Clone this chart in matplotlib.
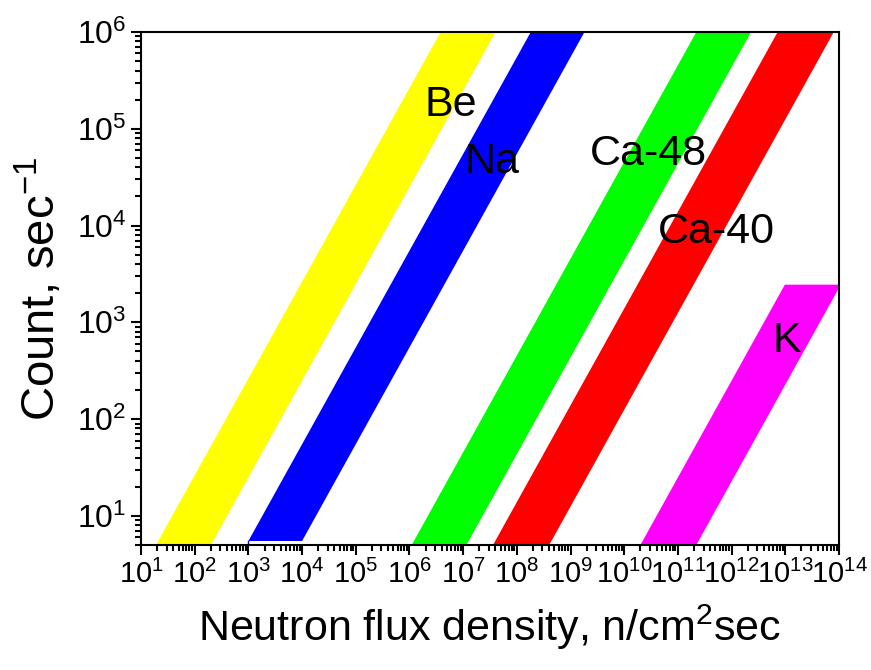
import matplotlib
matplotlib.use("Agg")
import matplotlib.pyplot as plt
from matplotlib.ticker import LogLocator, LogFormatterMathtext, NullFormatter

plt.rcParams['font.family'] = ['Liberation Sans', 'DejaVu Sans']
plt.rcParams['mathtext.fontset'] = 'custom'
plt.rcParams['mathtext.rm'] = 'Liberation Sans'
plt.rcParams['mathtext.it'] = 'Liberation Sans'
plt.rcParams['mathtext.bf'] = 'Liberation Sans'

# ---- data ----
names = ['Be', 'Na', 'Ca-48', 'Ca-40', 'K']
colors = ['#ffff00', '#0000ff', '#00ff00', '#ff0000', '#ff00ff']
count_low = [5.0, 5.5, 5.0, 5.0, 5.0]
count_high = [1e6, 1e6, 1e6, 1e6, 2450.0]
flux_left_at_low = [19.0, 1e3, 1.1e6, 3.6e7, 2.0e10]
flux_right_at_low = [200.0, 1e4, 1.15e7, 4.0e8, 2.2e11]
label_x = [10**6.77, 10**7.54, 10**10.46, 10**11.71, 10**13.03]
label_y = [10**5.25, 10**4.66, 10**4.74, 10**3.93, 10**2.81]

xlim = (1e1, 1e14)
ylim = (5, 1e6)

fig = plt.figure(figsize=(8.71, 6.70), dpi=100)
ax = fig.add_axes([141/871, 1-545/670, (839-141)/871, (545-32)/670])

for i in range(len(names)):
    lo, hi = count_low[i], count_high[i]
    xl, xr = flux_left_at_low[i], flux_right_at_low[i]
    k = hi / lo
    xs = [xl, xr, xr * k, xl * k]
    ys = [lo, lo, hi, hi]
    ax.fill(xs, ys, color=colors[i], lw=0, zorder=2)
    ax.text(label_x[i], label_y[i], names[i], fontsize=31, ha='center', va='center', zorder=4)

# small vertical edge of the Na band
ax.plot([flux_left_at_low[1], flux_left_at_low[1]], [ylim[0], count_low[1]],
        color=colors[1], lw=1, zorder=2)

ax.set_xscale('log')
ax.set_yscale('log')
ax.set_xlim(*xlim)
ax.set_ylim(*ylim)

ax.xaxis.set_major_locator(LogLocator(base=10, numticks=20))
ax.xaxis.set_minor_locator(LogLocator(base=10, subs=range(2, 10), numticks=200))
ax.yaxis.set_major_locator(LogLocator(base=10, numticks=20))
ax.yaxis.set_minor_locator(LogLocator(base=10, subs=range(2, 10), numticks=200))
ax.xaxis.set_major_formatter(LogFormatterMathtext())
ax.yaxis.set_major_formatter(LogFormatterMathtext())
ax.xaxis.set_minor_formatter(NullFormatter())
ax.yaxis.set_minor_formatter(NullFormatter())

ax.tick_params(which='both', direction='out', top=False, right=False, width=1.5)
ax.tick_params(axis='x', labelsize=21)
ax.tick_params(axis='y', labelsize=23)
ax.tick_params(which='major', length=7)
ax.tick_params(which='minor', length=4)
for s in ax.spines.values():
    s.set_linewidth(1.5)
    s.set_zorder(5)

ax.set_xlabel('Neutron flux density, n/cm$^2$sec', fontsize=31, labelpad=10)
ax.set_ylabel('Count, sec$^{-1}$', fontsize=34, labelpad=8)

fig.savefig('out.png', dpi=100)
